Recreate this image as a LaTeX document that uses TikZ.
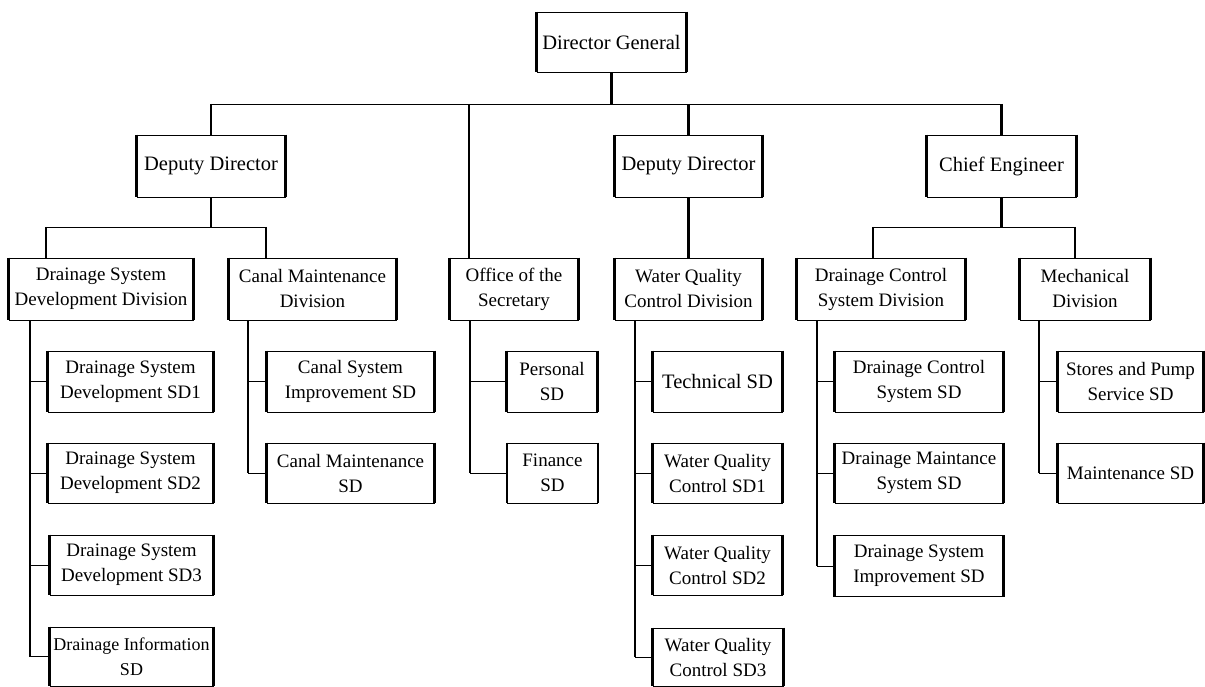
\documentclass[tikz,border=0pt]{standalone}
\usepackage{fontspec}
\setmainfont{Liberation Serif}
\begin{document}
\begin{tikzpicture}[x=1pt,y=-1pt,
  orgbox/.style 2 args={draw, line width=0.9pt, inner sep=0pt, align=center,
    minimum width=#1pt, minimum height=#2pt,
    font=\fontsize{19}{25}\selectfont},
  bigtext/.style={font=\fontsize{20.5}{25}\selectfont},
  smalltext/.style={font=\fontsize{18}{25}\selectfont},
  vcon/.style={line width=2.2pt},
  hcon/.style={line width=0.9pt, line cap=rect},
  side/.style={line width=2.2pt}]
\useasboundingbox (0,0) rectangle (1205,687);

% top levels
\node[orgbox={149}{60}, bigtext] (dg)  at (611.5,42)  {Director General};
\node[orgbox={148}{62}, bigtext] (dd1) at (211,166)   {Deputy Director};
\node[orgbox={147}{62}, bigtext] (dd2) at (688.5,166) {Deputy Director};
\node[orgbox={149}{62}, bigtext] (ce)  at (1001.5,166) {Chief Engineer};

% divisions
\node[orgbox={184}{62}] (dsd)  at (101,289)   {Drainage System\\Development Division};
\node[orgbox={167}{62}] (cmd)  at (312.5,289) {Canal Maintenance\\Division};
\node[orgbox={128}{62}] (off)  at (514,289)   {Office of the\\Secretary};
\node[orgbox={147}{62}] (wq)   at (688.5,289) {Water Quality\\Control Division};
\node[orgbox={168}{62}] (dcs)  at (881,289)   {Drainage Control\\System Division};
\node[orgbox={130}{62}] (mech) at (1085,289)  {Mechanical\\Division};

% sub-divisions
\node[orgbox={165}{61}] (dsd1) at (130.5,381.5) {Drainage System\\Development SD1};
\node[orgbox={165}{60}] (dsd2) at (130.5,473)   {Drainage System\\Development SD2};
\node[orgbox={163}{60}] (dsd3) at (131.5,565)   {Drainage System\\Development SD3};
\node[orgbox={163}{59}, smalltext] (dsd4) at (131.5,656.5) {Drainage Information\\SD};

\node[orgbox={167}{61}] (cm1) at (350.5,381.5) {Canal System\\Improvement SD};
\node[orgbox={167}{60}] (cm2) at (350.5,473)   {Canal Maintenance\\SD};

\node[orgbox={90}{61}] (of1) at (552,381.5) {Personal\\SD};
\node[orgbox={90}{60}] (of2) at (552.5,473) {Finance\\SD};

\node[orgbox={129}{61}, bigtext] (wq1) at (717.5,381.5) {Technical SD};
\node[orgbox={129}{60}] (wq2) at (717.5,473)   {Water Quality\\Control SD1};
\node[orgbox={129}{60}] (wq3) at (717.5,565)   {Water Quality\\Control SD2};
\node[orgbox={130}{58}] (wq4) at (718,657)     {Water Quality\\Control SD3};

\node[orgbox={168}{61}] (dc1) at (919,381.5) {Drainage Control\\System SD};
\node[orgbox={168}{60}] (dc2) at (919,473)   {Drainage Maintance\\System SD};
\node[orgbox={168}{61}] (dc3) at (919,566)   {Drainage System\\Improvement SD};

\node[orgbox={145}{61}] (me1) at (1130.5,381.5) {Stores and Pump\\Service SD};
\node[orgbox={145}{60}] (me2) at (1130.5,473)   {Maintenance SD};

% heavier left and right sides of every box
\foreach \n in {dg,dd1,dd2,ce,dsd,cmd,off,wq,dcs,mech,dsd1,dsd2,dsd3,dsd4,
                cm1,cm2,of1,of2,wq1,wq2,wq3,wq4,dc1,dc2,dc3,me1,me2}
  \draw[side] (\n.north west) -- (\n.south west) (\n.north east) -- (\n.south east);

% bus lines
\coordinate (b1) at (0,104);
\coordinate (b2) at (0,227);

% Director General to the second level
\draw[vcon] (dg.south) -- (dg.south |- b1);
\draw[hcon] (dd1.north |- b1) -- (ce.north |- b1);
\draw[vcon] (dd1.north |- b1) -- (dd1.north);
\draw[vcon] (dd2.north |- b1) -- (dd2.north);
\draw[vcon] (ce.north |- b1) -- (ce.north);
\coordinate (offin) at ([xshift=-45pt]off.north);
\draw[vcon] (offin |- b1) -- (offin);

% Deputy Director (left) to its divisions
\coordinate (dsdin) at ([xshift=-55pt]dsd.north);
\coordinate (cmdin) at ([xshift=-46.5pt]cmd.north);
\draw[vcon] (dd1.south) -- (dd1.south |- b2);
\draw[hcon] (dsdin |- b2) -- (cmdin |- b2);
\draw[vcon] (dsdin |- b2) -- (dsdin);
\draw[vcon] (cmdin |- b2) -- (cmdin);

% Deputy Director (middle) to its division
\draw[vcon] (dd2.south) -- (wq.north);

% Chief Engineer to its divisions
\coordinate (dcsin) at ([xshift=-8pt]dcs.north);
\coordinate (mechin) at ([xshift=-10pt]mech.north);
\draw[vcon] (ce.south) -- (ce.south |- b2);
\draw[hcon] (dcsin |- b2) -- (mechin |- b2);
\draw[vcon] (dcsin |- b2) -- (dcsin);
\draw[vcon] (mechin |- b2) -- (mechin);

% spines down to the sub-divisions
\coordinate (dsdsp) at ([xshift=-71pt]dsd.south);
\draw[vcon] (dsdsp) -- (dsdsp |- dsd4.west);
\foreach \n in {dsd1,dsd2,dsd3,dsd4} \draw[hcon] (\n.west -| dsdsp) -- (\n.west);

\coordinate (cmdsp) at ([xshift=-64.5pt]cmd.south);
\draw[vcon] (cmdsp) -- (cmdsp |- cm2.west);
\foreach \n in {cm1,cm2} \draw[hcon] (\n.west -| cmdsp) -- (\n.west);

\coordinate (offsp) at ([xshift=-44pt]off.south);
\draw[vcon] (offsp) -- (offsp |- of2.west);
\foreach \n in {of1,of2} \draw[hcon] (\n.west -| offsp) -- (\n.west);

\coordinate (wqsp) at ([xshift=-53.5pt]wq.south);
\draw[vcon] (wqsp) -- (wqsp |- wq4.west);
\foreach \n in {wq1,wq2,wq3,wq4} \draw[hcon] (\n.west -| wqsp) -- (\n.west);

\coordinate (dcssp) at ([xshift=-64pt]dcs.south);
\draw[vcon] (dcssp) -- (dcssp |- dc3.west);
\foreach \n in {dc1,dc2,dc3} \draw[hcon] (\n.west -| dcssp) -- (\n.west);

\coordinate (mechsp) at ([xshift=-46pt]mech.south);
\draw[vcon] (mechsp) -- (mechsp |- me2.west);
\foreach \n in {me1,me2} \draw[hcon] (\n.west -| mechsp) -- (\n.west);
\end{tikzpicture}
\end{document}
